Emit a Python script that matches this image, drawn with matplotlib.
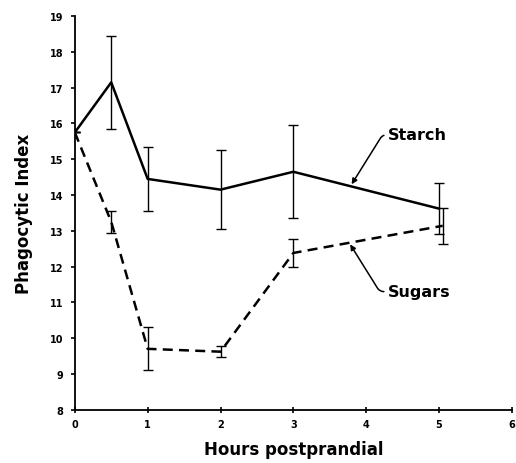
import matplotlib.pyplot as plt

# data
hours = [0, 0.5, 1, 2, 3, 5]
starch = [15.75, 17.15, 14.45, 14.15, 14.65, 13.62]
starch_err = [0, 1.3, 0.9, 1.1, 1.3, 0.72]

hours_sug = [0, 0.5, 1, 2, 3, 5.05]
sugars = [15.75, 13.25, 9.7, 9.62, 12.38, 13.14]
sugars_err = [0, 0.3, 0.6, 0.15, 0.4, 0.5]

xticks = [0, 1, 2, 3, 4, 5, 6]
yticks = list(range(8, 20))

fig = plt.figure(figsize=(5.16, 4.64), dpi=100)
ax = fig.add_axes([0.145, 0.115, 0.847, 0.848])

ax.errorbar(hours, starch, yerr=starch_err, color='black', lw=1.8,
            elinewidth=1.0, capsize=3.5, capthick=1.0)
ax.errorbar(hours_sug, sugars, yerr=sugars_err, color='black', lw=1.8,
            ls=(0, (4, 2.5)), elinewidth=1.0, capsize=3.5, capthick=1.0)

ax.set_xlim(0, 6)
ax.set_ylim(8, 19)
ax.set_xticks(xticks)
ax.set_yticks(yticks)
for s in ['top', 'right']:
    ax.spines[s].set_visible(False)
for s in ['left', 'bottom']:
    ax.spines[s].set_linewidth(1.3)
ax.tick_params(axis='x', direction='inout', length=5, width=1.2, pad=4)
ax.tick_params(axis='y', direction='out', length=3, width=1.2, pad=5)
for lab in ax.get_xticklabels() + ax.get_yticklabels():
    lab.set_fontfamily(['Liberation Sans Narrow', 'DejaVu Sans'])
    lab.set_fontweight('bold')
    lab.set_fontsize(7)

ax.set_xlabel('Hours postprandial', fontsize=12, fontweight='bold', labelpad=8)
ax.set_ylabel('Phagocytic Index', fontsize=12, fontweight='bold', labelpad=12)

arrow = dict(arrowstyle='-|>', color='black', lw=1.1, mutation_scale=8,
             shrinkA=1, shrinkB=0,
             connectionstyle='angle,angleA=180,angleB=58,rad=4')
ax.annotate('Starch', xy=(3.8, 14.3), xytext=(4.3, 15.68), fontsize=11.5,
            fontweight='bold', va='center', ha='left', arrowprops=arrow)
ax.annotate('Sugars', xy=(3.78, 12.62), xytext=(4.3, 11.3), fontsize=11.5,
            fontweight='bold', va='center', ha='left',
            arrowprops=dict(arrow, connectionstyle='angle,angleA=180,angleB=-58,rad=4'))

fig.savefig('out.png', dpi=100)
